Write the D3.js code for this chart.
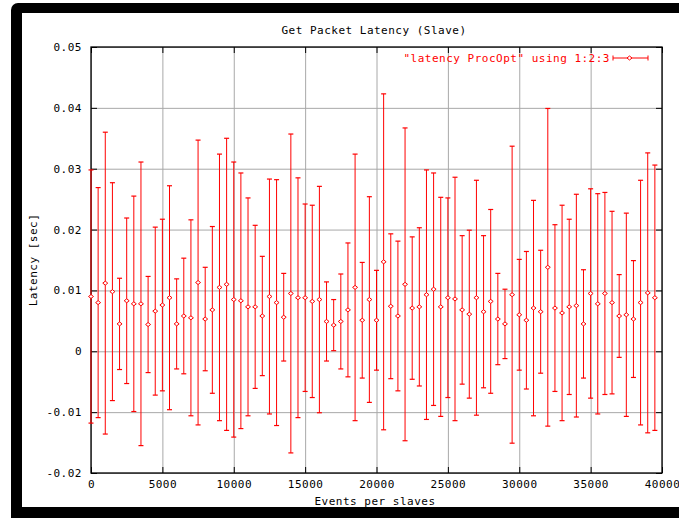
<!DOCTYPE html>
<html>
<head>
<meta charset="utf-8">
<script src="https://cdn.jsdelivr.net/npm/d3@7"></script>
<style>
  body { margin: 0; background: #fff; }
  text { font-family: "DejaVu Sans Mono", monospace; font-size: 11px; letter-spacing: 0.5px; }
</style>
</head>
<body>
<div id="chart"></div>
<script>
/////////////////////////////////////////////////////////
//////////////////////// Data ///////////////////////////
/////////////////////////////////////////////////////////

// Events per slave (column 1)
var events = [
  0, 500, 1000, 1500, 2000, 2500, 3000, 3500, 4000, 4500,
  5000, 5500, 6000, 6500, 7000, 7500, 8000, 8500, 9000, 9500,
  10000, 10500, 11000, 11500, 12000, 12500, 13000, 13500, 14000, 14500,
  15000, 15500, 16000, 16500, 17000, 17500, 18000, 18500, 19000, 19500,
  20000, 20500, 21000, 21500, 22000, 22500, 23000, 23500, 24000, 24500,
  25000, 25500, 26000, 26500, 27000, 27500, 28000, 28500, 29000, 29500,
  30000, 30500, 31000, 31500, 32000, 32500, 33000, 33500, 34000, 34500,
  35000, 35500, 36000, 36500, 37000, 37500, 38000, 38500, 39000, 39500
];

// Mean latency (column 2)
var latency = [
  0.0090, 0.0080, 0.0112, 0.0098, 0.0045, 0.0083, 0.0078, 0.0078, 0.0044, 0.0066,
  0.0076, 0.0088, 0.0045, 0.0058, 0.0055, 0.0113, 0.0053, 0.0068, 0.0105, 0.0110,
  0.0085, 0.0083, 0.0073, 0.0073, 0.0058, 0.0090, 0.0080, 0.0056, 0.0095, 0.0088,
  0.0088, 0.0082, 0.0085, 0.0049, 0.0043, 0.0049, 0.0068, 0.0105, 0.0051, 0.0085,
  0.0051, 0.0147, 0.0074, 0.0058, 0.0110, 0.0071, 0.0073, 0.0093, 0.0102, 0.0073,
  0.0088, 0.0086, 0.0068, 0.0061, 0.0088, 0.0065, 0.0082, 0.0053, 0.0045, 0.0093,
  0.0060, 0.0051, 0.0071, 0.0065, 0.0138, 0.0071, 0.0063, 0.0073, 0.0075, 0.0045,
  0.0095, 0.0078, 0.0095, 0.0080, 0.0058, 0.0060, 0.0053, 0.0080, 0.0096, 0.0088
];

// Error (column 3, ydelta)
var delta = [
  0.0208, 0.0189, 0.0248, 0.0179, 0.0075, 0.0136, 0.0177, 0.0233, 0.0079, 0.0138,
  0.0141, 0.0184, 0.0074, 0.0095, 0.0161, 0.0234, 0.0085, 0.0137, 0.0219, 0.0240,
  0.0226, 0.0210, 0.0179, 0.0134, 0.0098, 0.0193, 0.0202, 0.0072, 0.0262, 0.0197,
  0.0154, 0.0158, 0.0186, 0.0065, 0.0042, 0.0078, 0.0110, 0.0219, 0.0095, 0.0169,
  0.0082, 0.0276, 0.0119, 0.0123, 0.0257, 0.0117, 0.0130, 0.0205, 0.0191, 0.0180,
  0.0164, 0.0200, 0.0122, 0.0138, 0.0193, 0.0125, 0.0151, 0.0075, 0.0057, 0.0244,
  0.0091, 0.0113, 0.0177, 0.0101, 0.0261, 0.0137, 0.0177, 0.0144, 0.0183, 0.0089,
  0.0172, 0.0181, 0.0166, 0.0150, 0.0068, 0.0167, 0.0096, 0.0201, 0.0230, 0.0218
];

// Tick values and labels
var xTicks = [0, 5000, 10000, 15000, 20000, 25000, 30000, 35000, 40000];
var xTickLabels = ['0', '5000', '10000', '15000', '20000', '25000', '30000', '35000', '40000'];
var yTicks = [-0.02, -0.01, 0, 0.01, 0.02, 0.03, 0.04, 0.05];
var yTickLabels = ['-0.02', '-0.01', '0', '0.01', '0.02', '0.03', '0.04', '0.05'];

var title = 'Get Packet Latency (Slave)';
var xLabel = 'Events per slaves';
var yLabel = 'Latency [sec]';
var keyLabel = '"latency ProcOpt" using 1:2:3';

/////////////////////////////////////////////////////////
//////////////////// Layout /////////////////////////////
/////////////////////////////////////////////////////////

var width = 679, height = 518;
var plot = {left: 91, right: 662, top: 47, bottom: 473};
var red = '#ff0000';
var tickLen = 6;

var svg = d3.select('#chart').append('svg')
  .attr('width', width)
  .attr('height', height);

// Window frame around the picture
svg.append('rect')
  .attr('x', 11).attr('y', 3)
  .attr('width', width + 20).attr('height', height + 20)
  .attr('rx', 7)
  .attr('fill', '#000');
svg.append('rect')
  .attr('x', 22).attr('y', 13)
  .attr('width', width).attr('height', 494)
  .attr('fill', '#fff');

var x = d3.scaleLinear()
  .domain([0, 40000])
  .range([plot.left, plot.right]);

var y = d3.scaleLinear()
  .domain([-0.02, 0.05])
  .range([plot.bottom, plot.top]);

/////////////////////////////////////////////////////////
//////////////////// Grid ///////////////////////////////
/////////////////////////////////////////////////////////

var grid = svg.append('g').attr('class', 'grid');

grid.append('g')
  .attr('transform', 'translate(0,' + plot.bottom + ')')
  .call(d3.axisBottom(x).tickValues(xTicks).tickSize(-(plot.bottom - plot.top)).tickFormat(''))
  .call(function(g) { g.select('.domain').remove(); })
  .selectAll('line')
  .attr('stroke', '#a8a8a8');

grid.append('g')
  .attr('transform', 'translate(' + plot.left + ',0)')
  .call(d3.axisLeft(y).tickValues(yTicks).tickSize(-(plot.right - plot.left)).tickFormat(''))
  .call(function(g) { g.select('.domain').remove(); })
  .selectAll('line')
  .attr('stroke', '#a8a8a8');

/////////////////////////////////////////////////////////
//////////////////// Axes ///////////////////////////////
/////////////////////////////////////////////////////////

function styleAxis(g) {
  g.select('.domain').remove();
  g.selectAll('line').attr('stroke', '#000');
  g.selectAll('text')
    .attr('fill', '#000')
    .style('font-family', '"DejaVu Sans Mono", monospace')
    .style('font-size', '11px');
}

// bottom, with labels
svg.append('g')
  .attr('transform', 'translate(0,' + plot.bottom + ')')
  .call(d3.axisBottom(x).tickValues(xTicks).tickSizeInner(-tickLen).tickSizeOuter(0).tickPadding(7)
    .tickFormat(function(d, i) { return xTickLabels[i]; }))
  .call(styleAxis);

// left, with labels
svg.append('g')
  .attr('transform', 'translate(' + plot.left + ',0)')
  .call(d3.axisLeft(y).tickValues(yTicks).tickSizeInner(-tickLen).tickSizeOuter(0).tickPadding(9)
    .tickFormat(function(d, i) { return yTickLabels[i]; }))
  .call(styleAxis);

// mirrored ticks on top and right
svg.append('g')
  .attr('transform', 'translate(0,' + plot.top + ')')
  .call(d3.axisTop(x).tickValues(xTicks).tickSizeInner(-tickLen).tickSizeOuter(0).tickFormat(''))
  .call(styleAxis);

svg.append('g')
  .attr('transform', 'translate(' + plot.right + ',0)')
  .call(d3.axisRight(y).tickValues(yTicks).tickSizeInner(-tickLen).tickSizeOuter(0).tickFormat(''))
  .call(styleAxis);

// plot border
svg.append('rect')
  .attr('x', plot.left).attr('y', plot.top)
  .attr('width', plot.right - plot.left)
  .attr('height', plot.bottom - plot.top)
  .attr('fill', 'none')
  .attr('stroke', '#000')
  .attr('stroke-width', 1.3);

/////////////////////////////////////////////////////////
//////////////////// Error bars /////////////////////////
/////////////////////////////////////////////////////////

var points = events.map(function(e, i) {
  return {x: e, y: latency[i], d: delta[i]};
});

var bars = svg.append('g').attr('class', 'errorbars')
  .selectAll('g')
  .data(points)
  .enter()
  .append('g');

bars.append('line')
  .attr('x1', function(d) { return x(d.x); })
  .attr('x2', function(d) { return x(d.x); })
  .attr('y1', function(d) { return y(d.y + d.d); })
  .attr('y2', function(d) { return y(d.y - d.d); })
  .attr('stroke', red);

// caps
[1, -1].forEach(function(s) {
  bars.append('line')
    .attr('x1', function(d) { return x(d.x) - 2.5; })
    .attr('x2', function(d) { return x(d.x) + 2.5; })
    .attr('y1', function(d) { return y(d.y + s * d.d); })
    .attr('y2', function(d) { return y(d.y + s * d.d); })
    .attr('stroke', red)
    .attr('stroke-width', 1.2);
});

// point marker
bars.append('path')
  .attr('d', function(d) {
    var cx = x(d.x), cy = y(d.y);
    return 'M' + (cx - 2.5) + ',' + cy + 'L' + cx + ',' + (cy - 2) +
      'L' + (cx + 2.5) + ',' + cy + 'L' + cx + ',' + (cy + 2) + 'Z';
  })
  .attr('fill', '#fff')
  .attr('stroke', red)
  .attr('stroke-width', 1);

/////////////////////////////////////////////////////////
//////////////////// Key & labels ///////////////////////
/////////////////////////////////////////////////////////

svg.append('text')
  .attr('x', 610).attr('y', 62)
  .attr('text-anchor', 'end')
  .attr('fill', red)
  .text(keyLabel);

var key = svg.append('g').attr('class', 'key');
key.append('line')
  .attr('x1', 613).attr('x2', 648).attr('y1', 58).attr('y2', 58)
  .attr('stroke', red);
[613, 648].forEach(function(kx) {
  key.append('line')
    .attr('x1', kx).attr('x2', kx).attr('y1', 55.5).attr('y2', 60.5)
    .attr('stroke', red);
});
key.append('path')
  .attr('d', 'M627,58L629.5,56L632,58L629.5,60Z')
  .attr('fill', '#fff')
  .attr('stroke', red);

svg.append('text')
  .attr('x', 374).attr('y', 34)
  .attr('text-anchor', 'middle')
  .attr('fill', '#000')
  .text(title);

svg.append('text')
  .attr('x', 375).attr('y', 505)
  .attr('text-anchor', 'middle')
  .attr('fill', '#000')
  .text(xLabel);

svg.append('text')
  .attr('transform', 'translate(37,260) rotate(-90)')
  .attr('text-anchor', 'middle')
  .attr('fill', '#000')
  .text(yLabel);
</script>
</body>
</html>
